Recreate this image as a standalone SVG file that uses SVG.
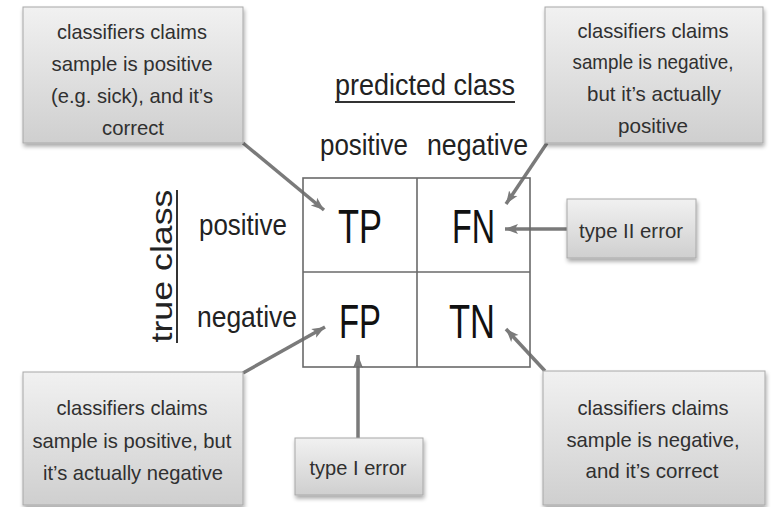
<svg xmlns="http://www.w3.org/2000/svg" width="781" height="507" viewBox="0 0 781 507">
<style>
  text { font-family: "Liberation Sans", Arial, sans-serif; }
  .box { fill: url(#boxGrad); stroke: #a8a8a8; stroke-width: 1; filter: url(#shadow); }
  .bt { font-size: 21px; fill: #303030; text-anchor: middle; }
  .hdr { font-size: 29px; fill: #222; }
  .cell { font-size: 48px; fill: #111; }
  .grid { fill: none; stroke: #6a6a6a; stroke-width: 1.6; }
  .conn { stroke: #7a7a7a; stroke-width: 3.5; fill: none; marker-end: url(#arrow); }
</style>
<defs>
  <linearGradient id="boxGrad" x1="0" y1="0" x2="0" y2="1">
    <stop offset="0" stop-color="#f1f1f1"/>
    <stop offset="1" stop-color="#cfcfcf"/>
  </linearGradient>
  <filter id="shadow" x="-10%" y="-10%" width="130%" height="130%">
    <feGaussianBlur in="SourceAlpha" stdDeviation="2"/>
    <feOffset dx="1" dy="3" result="b"/>
    <feComponentTransfer><feFuncA type="linear" slope="0.35"/></feComponentTransfer>
    <feMerge><feMergeNode/><feMergeNode in="SourceGraphic"/></feMerge>
  </filter>
  <marker id="arrow" markerUnits="userSpaceOnUse" markerWidth="14" markerHeight="12" refX="13" refY="6" orient="auto">
    <path d="M0,1 L13,6 L0,11 L3,6 z" fill="#7a7a7a"/>
  </marker>
</defs>
<rect width="781" height="507" fill="#ffffff"/>

<g id="connectors">
  <line class="conn" x1="243" y1="143" x2="324" y2="210"/>
  <line class="conn" x1="547" y1="143" x2="506" y2="204"/>
  <line class="conn" x1="567" y1="229" x2="505" y2="229"/>
  <line class="conn" x1="243" y1="373" x2="325" y2="327"/>
  <line class="conn" x1="358" y1="438" x2="358" y2="355"/>
  <line class="conn" x1="545" y1="371" x2="506" y2="329"/>
</g>

<g id="matrix">
  <rect class="grid" x="303" y="178" width="227" height="189"/>
  <line class="grid" x1="417" y1="178" x2="417" y2="367"/>
  <line class="grid" x1="303" y1="272" x2="530" y2="272"/>
</g>

<g id="header-predicted">
  <text class="hdr" x="335" y="95" font-size="34" textLength="180" lengthAdjust="spacingAndGlyphs">predicted class</text>
  <line x1="335" y1="102" x2="515" y2="102" stroke="#333" stroke-width="2"/>
</g>
<g id="col-positive"><text class="hdr" x="320" y="155" textLength="88" lengthAdjust="spacingAndGlyphs">positive</text></g>
<g id="col-negative"><text class="hdr" x="427" y="155" textLength="101" lengthAdjust="spacingAndGlyphs">negative</text></g>

<g id="header-true">
  <text class="hdr" font-size="36" text-anchor="middle" transform="translate(172,266) rotate(-90)" x="0" y="0" textLength="153" lengthAdjust="spacingAndGlyphs">true class</text>
  <line x1="177" y1="190" x2="177" y2="343" stroke="#333" stroke-width="2"/>
</g>
<g id="row-positive"><text class="hdr" x="199" y="235" textLength="88" lengthAdjust="spacingAndGlyphs">positive</text></g>
<g id="row-negative"><text class="hdr" x="197" y="327" textLength="100" lengthAdjust="spacingAndGlyphs">negative</text></g>

<g id="TP"><text class="cell" x="338" y="243" textLength="44" lengthAdjust="spacingAndGlyphs">TP</text></g>
<g id="FN"><text class="cell" x="452" y="243" textLength="43" lengthAdjust="spacingAndGlyphs">FN</text></g>
<g id="FP"><text class="cell" x="339" y="338" textLength="42" lengthAdjust="spacingAndGlyphs">FP</text></g>
<g id="TN"><text class="cell" x="449" y="338" textLength="46" lengthAdjust="spacingAndGlyphs">TN</text></g>

<g id="note-tp">
  <rect class="box" x="23" y="7" width="220" height="136"/>
  <text class="bt" x="132" y="39" textLength="150" lengthAdjust="spacingAndGlyphs">classifiers claims</text>
  <text class="bt" x="132" y="71" textLength="161" lengthAdjust="spacingAndGlyphs">sample is positive</text>
  <text class="bt" x="132" y="103" textLength="162" lengthAdjust="spacingAndGlyphs">(e.g. sick), and it’s</text>
  <text class="bt" x="133" y="135" textLength="62" lengthAdjust="spacingAndGlyphs">correct</text>
</g>

<g id="note-fn">
  <rect class="box" x="545" y="7" width="218" height="136"/>
  <text class="bt" x="653" y="38" textLength="151" lengthAdjust="spacingAndGlyphs">classifiers claims</text>
  <text class="bt" x="653" y="69" textLength="161" lengthAdjust="spacingAndGlyphs">sample is negative,</text>
  <text class="bt" x="654" y="101" textLength="134" lengthAdjust="spacingAndGlyphs">but it’s actually</text>
  <text class="bt" x="653" y="133" textLength="70" lengthAdjust="spacingAndGlyphs">positive</text>
</g>

<g id="note-type2">
  <rect class="box" x="567" y="199" width="129" height="59"/>
  <text class="bt" x="631" y="238" textLength="104" lengthAdjust="spacingAndGlyphs">type II error</text>
</g>

<g id="note-fp">
  <rect class="box" x="23" y="372" width="220" height="133"/>
  <text class="bt" x="132" y="415" textLength="151" lengthAdjust="spacingAndGlyphs">classifiers claims</text>
  <text class="bt" x="132" y="448" textLength="199" lengthAdjust="spacingAndGlyphs">sample is positive, but</text>
  <text class="bt" x="133" y="480" textLength="180" lengthAdjust="spacingAndGlyphs">it’s actually negative</text>
</g>

<g id="note-type1">
  <rect class="box" x="295" y="438" width="128" height="57"/>
  <text class="bt" x="358" y="475" textLength="97" lengthAdjust="spacingAndGlyphs">type I error</text>
</g>

<g id="note-tn">
  <rect class="box" x="543" y="371" width="222" height="134"/>
  <text class="bt" x="653" y="415" textLength="151" lengthAdjust="spacingAndGlyphs">classifiers claims</text>
  <text class="bt" x="653" y="447" textLength="173" lengthAdjust="spacingAndGlyphs">sample is negative,</text>
  <text class="bt" x="652" y="478" textLength="133" lengthAdjust="spacingAndGlyphs">and it’s correct</text>
</g>
</svg>
